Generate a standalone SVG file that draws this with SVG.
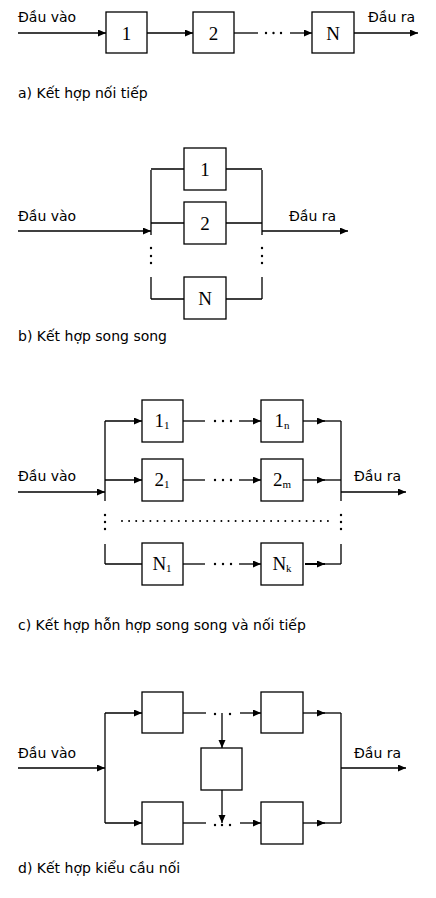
<svg xmlns="http://www.w3.org/2000/svg" width="436" height="898" viewBox="0 0 436 898">
<defs>
<marker id="ar" markerUnits="userSpaceOnUse" markerWidth="9" markerHeight="8" refX="8" refY="3.5" orient="auto">
<path d="M0,0 L8,3.5 L0,7 z" fill="#000"/>
</marker>
<style>
.ln{fill:none;stroke:#000;stroke-width:1.3}
.ar{marker-end:url(#ar)}
.bx{fill:#fff;stroke:#000;stroke-width:1.3}
.lb{font-family:"DejaVu Sans","Liberation Sans",sans-serif;font-size:14px;fill:#000}
.nm{font-family:"Liberation Serif","DejaVu Serif",serif;font-size:19px;fill:#000;text-anchor:middle}
.sb{font-size:11px}
.dt{fill:#000}
.dl{fill:none;stroke:#000;stroke-width:2;stroke-linecap:round;stroke-dasharray:0 7.1}
</style>
</defs>
<rect width="436" height="898" fill="#fff"/>

<!-- a) series -->
<g id="connectors-a">
<path class="ln ar" d="M18,33 H106"/>
<path class="ln ar" d="M147,33 H193"/>
<path class="ln" d="M234,33 H258"/>
<circle class="dt" cx="266" cy="33" r="1.2"/><circle class="dt" cx="273.5" cy="33" r="1.2"/><circle class="dt" cx="281" cy="33" r="1.2"/>
<path class="ln ar" d="M290,33 H312"/>
<path class="ln ar" d="M354,33 H418"/>
</g>
<g id="a-box1"><rect class="bx" x="106" y="12" width="41" height="41"/><text class="nm" x="126.5" y="40">1</text></g>
<g id="a-box2"><rect class="bx" x="193" y="12" width="41" height="41"/><text class="nm" x="213.5" y="40">2</text></g>
<g id="a-boxN"><rect class="bx" x="312" y="12" width="42" height="41"/><text class="nm" x="333" y="40">N</text></g>
<text class="lb" x="18" y="22">Đầu vào</text>
<text class="lb" x="368" y="22">Đầu ra</text>
<text class="lb" x="18" y="98">a) Kết hợp nối tiếp</text>

<!-- b) parallel -->
<g id="connectors-b">
<path class="ln ar" d="M18,231 H151"/>
<path class="ln ar" d="M262,231 H348"/>
<path class="ln" d="M151,170 V235 M151,277 V299"/>
<path class="ln" d="M262,170 V235 M262,277 V299"/>
<path class="ln" d="M151,169 H184 M226,169 H262"/>
<path class="ln" d="M151,223 H184 M226,223 H262"/>
<path class="ln" d="M151,299 H184 M226,299 H262"/>
<circle class="dt" cx="151" cy="248" r="1.2"/><circle class="dt" cx="151" cy="256" r="1.2"/><circle class="dt" cx="151" cy="263" r="1.2"/>
<circle class="dt" cx="262" cy="248" r="1.2"/><circle class="dt" cx="262" cy="256" r="1.2"/><circle class="dt" cx="262" cy="263" r="1.2"/>
</g>
<g id="b-box1"><rect class="bx" x="184" y="148" width="42" height="42"/><text class="nm" x="205" y="176">1</text></g>
<g id="b-box2"><rect class="bx" x="184" y="202" width="42" height="42"/><text class="nm" x="205" y="230">2</text></g>
<g id="b-boxN"><rect class="bx" x="184" y="277" width="42" height="42"/><text class="nm" x="205" y="305">N</text></g>
<text class="lb" x="18" y="221">Đầu vào</text>
<text class="lb" x="289" y="221">Đầu ra</text>
<text class="lb" x="18" y="341">b) Kết hợp song song</text>

<!-- c) mixed -->
<g id="connectors-c">
<path class="ln ar" d="M18,492 H105"/>
<path class="ln ar" d="M341,492 H406"/>
<path class="ln" d="M105,421 V501 M105,544 V564"/>
<path class="ln" d="M341,421 V501 M341,544 V564"/>
<circle class="dt" cx="105" cy="515" r="1.2"/><circle class="dt" cx="105" cy="522" r="1.2"/><circle class="dt" cx="105" cy="529" r="1.2"/>
<circle class="dt" cx="341" cy="515" r="1.2"/><circle class="dt" cx="341" cy="522" r="1.2"/><circle class="dt" cx="341" cy="529" r="1.2"/>
<path class="dl" d="M122,521 H330"/>
<path class="ln ar" d="M105,421 H142"/>
<path class="ln" d="M183,421 H205"/>
<circle class="dt" cx="215" cy="421" r="1.2"/><circle class="dt" cx="223" cy="421" r="1.2"/><circle class="dt" cx="231" cy="421" r="1.2"/>
<path class="ln ar" d="M239,421 H261"/>
<path class="ln ar" d="M303,421 H325"/>
<path class="ln" d="M320,421 H341"/>
<path class="ln ar" d="M105,480 H142"/>
<path class="ln" d="M183,480 H205"/>
<circle class="dt" cx="215" cy="480" r="1.2"/><circle class="dt" cx="223" cy="480" r="1.2"/><circle class="dt" cx="231" cy="480" r="1.2"/>
<path class="ln ar" d="M239,480 H261"/>
<path class="ln ar" d="M303,480 H325"/>
<path class="ln" d="M320,480 H341"/>
<path class="ln" d="M105,564 H142"/>
<path class="ln" d="M183,564 H205"/>
<circle class="dt" cx="215" cy="564" r="1.2"/><circle class="dt" cx="223" cy="564" r="1.2"/><circle class="dt" cx="231" cy="564" r="1.2"/>
<path class="ln ar" d="M239,564 H261"/>
<path class="ln ar" d="M305,564 H325" style="stroke-width:2"/>
<path class="ln" d="M320,564 H341"/>
</g>
<g id="c-box11"><rect class="bx" x="142" y="400" width="41" height="42"/><text class="nm" x="162" y="427">1<tspan class="sb" dy="2">1</tspan></text></g>
<g id="c-box1n"><rect class="bx" x="261" y="400" width="42" height="42"/><text class="nm" x="282" y="427">1<tspan class="sb" dy="2">n</tspan></text></g>
<g id="c-box21"><rect class="bx" x="142" y="459" width="41" height="42"/><text class="nm" x="162" y="486">2<tspan class="sb" dy="2">1</tspan></text></g>
<g id="c-box2m"><rect class="bx" x="261" y="459" width="42" height="42"/><text class="nm" x="282" y="486">2<tspan class="sb" dy="2">m</tspan></text></g>
<g id="c-boxN1"><rect class="bx" x="142" y="543" width="41" height="42"/><text class="nm" x="162" y="570">N<tspan class="sb" dy="2">1</tspan></text></g>
<g id="c-boxNk"><rect class="bx" x="261" y="543" width="42" height="42"/><text class="nm" x="282" y="570">N<tspan class="sb" dy="2">k</tspan></text></g>
<text class="lb" x="18" y="481">Đầu vào</text>
<text class="lb" x="354" y="481">Đầu ra</text>
<text class="lb" x="18" y="630">c) Kết hợp hỗn hợp song song và nối tiếp</text>

<!-- d) bridge -->
<g id="connectors-d">
<path class="ln ar" d="M18,768 H105"/>
<path class="ln ar" d="M341,768 H406"/>
<path class="ln" d="M105,713 V823"/>
<path class="ln" d="M341,713 V823"/>
<path class="ln ar" d="M105,713 H142"/>
<path class="ln ar" d="M105,823 H142"/>
<path class="ln" d="M183,713 H206"/>
<circle class="dt" cx="215" cy="714" r="1.2"/><circle class="dt" cx="230" cy="714" r="1.2"/>
<path class="ln ar" d="M240,713 H261"/>
<path class="ln ar" d="M222,713 V748"/>
<path class="ln ar" d="M222,790 V823"/>
<path class="ln" d="M183,823 H206"/>
<circle class="dt" cx="215" cy="825" r="1.2"/><circle class="dt" cx="230" cy="825" r="1.2"/><circle class="dt" cx="222" cy="825" r="1.2"/>
<path class="ln ar" d="M240,823 H261"/>
<path class="ln ar" d="M303,713 H325"/>
<path class="ln" d="M320,713 H341"/>
<path class="ln ar" d="M303,823 H325"/>
<path class="ln" d="M320,823 H341"/>
</g>
<g id="d-box-tl"><rect class="bx" x="142" y="692" width="41" height="41"/></g>
<g id="d-box-tr"><rect class="bx" x="261" y="692" width="42" height="41"/></g>
<g id="d-box-mid"><rect class="bx" x="201" y="748" width="41" height="42"/></g>
<g id="d-box-bl"><rect class="bx" x="142" y="802" width="41" height="42"/></g>
<g id="d-box-br"><rect class="bx" x="261" y="802" width="42" height="42"/></g>
<text class="lb" x="18" y="758">Đầu vào</text>
<text class="lb" x="354" y="758">Đầu ra</text>
<text class="lb" x="18" y="873">d) Kết hợp kiểu cầu nối</text>
</svg>
